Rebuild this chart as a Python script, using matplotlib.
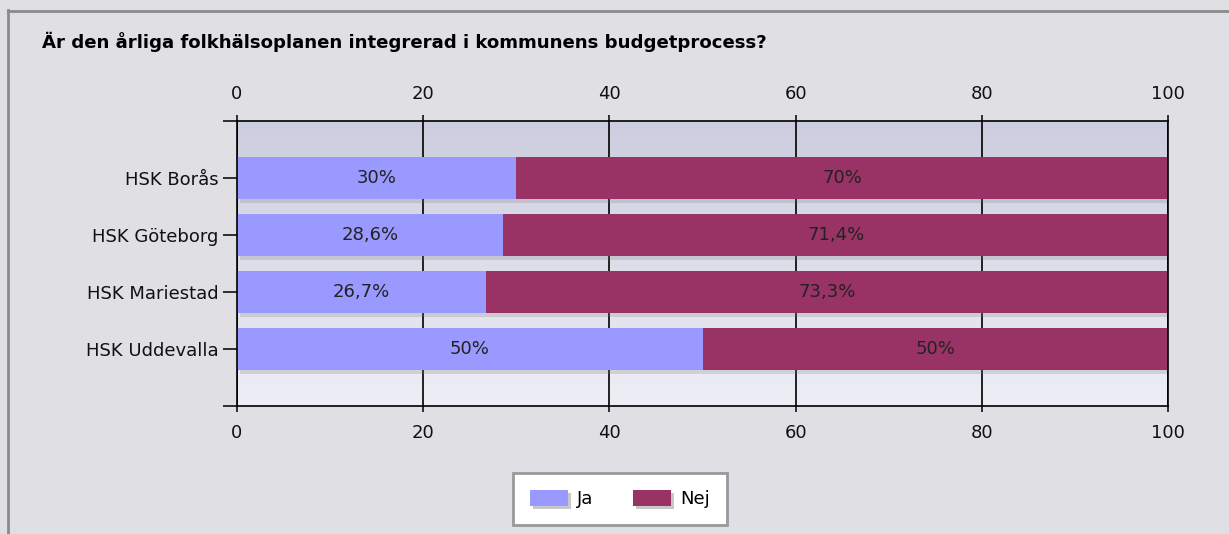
import matplotlib
matplotlib.use("Agg")
import matplotlib.pyplot as plt
import numpy as np
from matplotlib.patches import Patch
from matplotlib import patheffects as pe
from matplotlib.lines import Line2D

title = "Är den årliga folkhälsoplanen integrerad i kommunens budgetprocess?"
categories = ["HSK Borås", "HSK Göteborg", "HSK Mariestad", "HSK Uddevalla"]
ja = [30.0, 28.6, 26.7, 50.0]
nej = [70.0, 71.4, 73.3, 50.0]
ja_labels = ["30%", "28,6%", "26,7%", "50%"]
nej_labels = ["70%", "71,4%", "73,3%", "50%"]
xticks = [0, 20, 40, 60, 80, 100]

plt.rcParams['font.family'] = ['DejaVu Sans']
W, H = 1229, 534
fig = plt.figure(figsize=(W / 100, H / 100), dpi=100)
fig.patch.set_facecolor('#e0dfe4')

ax = fig.add_axes([237 / W, 1 - 406 / H, (1168 - 237) / W, (406 - 121) / H])

# gradient background
grad = np.linspace(0, 1, 256).reshape(-1, 1)
c_top = np.array([204, 205, 222]) / 255
c_bot = np.array([238, 238, 246]) / 255
img = c_top[None, None, :] * (1 - grad[:, :, None]) + c_bot[None, None, :] * grad[:, :, None]
ax.imshow(img, extent=[0, 1, 0, 1], transform=ax.transAxes, aspect='auto', zorder=0)

ax.set_xlim(0, 100)
ax.set_ylim(4, -1)
y = np.arange(len(categories))
shadow = [pe.SimplePatchShadow(offset=(2, -2.5), shadow_rgbFace='#777777', alpha=0.22), pe.Normal()]
h = 0.74
b1 = ax.barh(y, ja, height=h, color='#9999ff', zorder=3)
b2 = ax.barh(y, nej, left=ja, height=h, color='#993366', zorder=3)
for r in list(b1) + list(b2):
    r.set_path_effects(shadow)

for i in range(len(categories)):
    ax.text(ja[i] / 2, y[i], ja_labels[i], ha='center', va='center', fontsize=13, color='#222222', zorder=5)
    ax.text(ja[i] + nej[i] / 2, y[i], nej_labels[i], ha='center', va='center', fontsize=13, color='#222222', zorder=5)

ax.set_xticks(xticks)
ax.set_xticklabels([str(t) for t in xticks])
ax.grid(axis='x', color='black', linewidth=1.2, zorder=1)
ax.set_axisbelow(True)
ax.tick_params(axis='x', top=True, labeltop=True, bottom=True, labelbottom=True,
               direction='out', length=4.5, width=1.2, pad=8.5, labelsize=13, colors='#111111')
ax.set_yticks([-1, 0, 1, 2, 3, 4])
ax.set_yticklabels([""] + categories + [""])
ax.tick_params(axis='y', direction='out', length=10, width=1.2, pad=3.5, labelsize=13, colors='#111111')
for s in ax.spines.values():
    s.set_color('black')
    s.set_linewidth(1.2)
    s.set_zorder(4)

fig.text(42 / W, 1 - 42 / H, title, fontsize=13.1, fontweight='bold', ha='left', va='center', color='black')

# outer frame (left and top)
fig.add_artist(Line2D([7.5 / W, 7.5 / W], [0, 1 - 10 / H], transform=fig.transFigure, color='#8a8a8a', linewidth=2))
fig.add_artist(Line2D([7.5 / W, 1], [1 - 10.5 / H, 1 - 10.5 / H], transform=fig.transFigure, color='#8a8a8a', linewidth=2))

lshadow = [pe.SimplePatchShadow(offset=(2, -2), shadow_rgbFace='#777777', alpha=0.4), pe.Normal()]
handles = [Patch(facecolor='#9999ff', label='Ja', path_effects=lshadow),
           Patch(facecolor='#993366', label='Nej', path_effects=lshadow)]
leg = fig.legend(handles=handles, loc='center', bbox_to_anchor=(620 / W, 1 - 499 / H), ncol=2,
                 frameon=True, fancybox=False, edgecolor='#999999', facecolor='white', framealpha=1,
                 fontsize=13, handlelength=2.1, handleheight=1.0, columnspacing=2.2,
                 handletextpad=0.5, borderpad=0.95, borderaxespad=0)
leg.get_frame().set_linewidth(2)

fig.savefig("out.png", dpi=100, facecolor=fig.get_facecolor())
